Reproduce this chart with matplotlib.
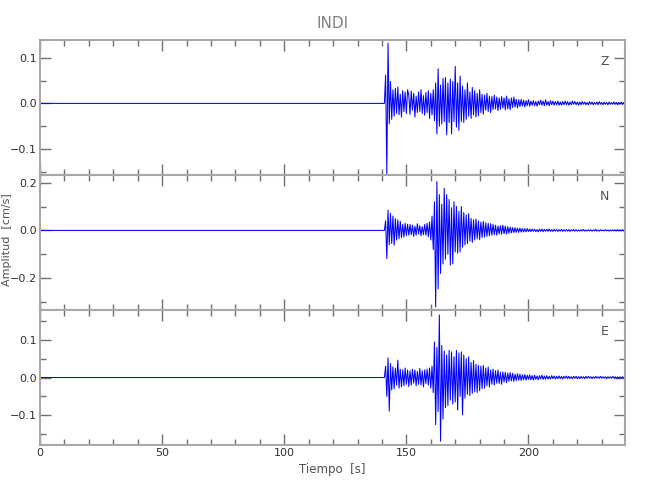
import numpy as np
import matplotlib
matplotlib.use('Agg')
import matplotlib.pyplot as plt
from matplotlib.ticker import MultipleLocator, FuncFormatter

plt.rcParams['font.family'] = ['DejaVu Sans']

# Station / component names
station = 'INDI'
components = ['Z', 'N', 'E']

# Waveforms, in 1e-3 cm/s, one sample every 0.5 s from t0.
# Before t0 the trace is flat at zero.
t0 = 141.0
dt = 0.5
z_vals = [
    0, 62, -154, 132, -45, 48, -35, 30, -28, 33, -22, 36, -25, 20, -30, 28, -18, 25, -22, 30,
    18, -24, 27, -15, 22, -30, 16, -20, 25, -18, 30, -22, 17, -26, 24, -20, 28, -33, 22, -25,
    30, -38, 45, -67, 76, -50, 40, -45, 55, -40, 57, -69, 45, -42, 53, -67, 48, -40, 81, -52,
    45, -59, 60, -40, 38, -42, 30, -35, 45, -28, 25, -33, 35, -25, 28, -30, 22, -27, 30, -20,
    20, -24, 18, -15, 22, -18, 16, -20, 15, -14, 18, -12, 14, -16, 12, -13, 15, -10, 12, -14,
    16, -12, 10, -14, 12, -9, 14, -8, 9, -10, 8, -7, 9, -6, 7, -8, 6, -5, 8, -6,
    5, -4, 6, -5, 4, -6, 5, -3, 7, -4, 5, -5, 8, -4, 4, -5, 6, -3, 5, -4,
    4, -3, 5, -4, 3, -4, 4, -3, 5, -3, 4, -4, 3, -3, 5, -2, 4, -3, 3, -4,
    3, -3, 4, -2, 3, -3, 2, -3, 4, -2, 3, -3, 2, -2, 3, -3, 4, -2, 2, -3,
    3, -2, 2, -3, 3, -2, 2, -2, 3, -2, 2, -3, 2, -2, 3, -2, 2, -2, 0,
]
n_vals = [
    0, 40, -118, 85, -60, 71, -55, 60, -62, 50, -40, 45, -35, 38, -30, 25, -28, 30, -22, 26,
    -20, 25, -18, 22, -25, 18, -20, 28, -15, 20, -22, 16, -18, 25, -20, 30, -26, 35, -40, 60,
    -80, 120, -320, 205, -245, 150, -180, 110, -140, 176, -120, 150, -100, 130, -145, 95, -140, 120, -90, 100,
    -95, 80, -90, 100, -70, 75, -60, 65, -55, 70, -45, 50, -50, 45, -40, 48, -35, 40, -38, 35,
    -30, 38, -28, 32, -25, 30, -22, 28, -20, 25, -18, 22, -20, 18, -15, 20, -16, 22, -14, 18,
    -15, 16, -12, 14, -10, 12, -9, 11, -8, 10, -8, 9, -7, 8, -6, 7, -6, 8, -5, 6,
    -5, 6, -4, 5, -5, 4, -6, 5, -4, 6, -5, 4, -3, 5, -4, 6, -4, 3, -4, 5,
    -3, 4, -4, 3, -3, 5, -4, 3, -3, 4, -3, 3, -4, 3, -2, 4, -3, 3, -3, 2,
    -3, 3, -2, 4, -3, 2, -3, 3, -2, 3, -3, 2, -2, 5, -3, 2, -3, 3, -2, 2,
    -2, 3, -2, 2, -3, 2, -2, 3, -2, 2, -2, 3, -2, 2, -2, 3, -2, 2, 0,
]
e_vals = [
    0, 30, -50, 52, -89, 37, -33, 28, -30, 25, -20, 46, -28, 22, -25, 20, -22, 25, -18, 20,
    -24, 18, -20, 22, -15, 20, -22, 16, -18, 24, -20, 18, -25, 20, -16, 22, -20, 25, -28, 30,
    -40, 94, -125, 80, -90, 166, -169, 85, -110, 70, -80, 60, -75, 72, -60, 68, -70, 55, -65, 72,
    -86, 65, -50, 68, -99, 60, -55, 50, -45, 55, -48, 40, -42, 45, -38, 35, -40, 32, -35, 30,
    -30, 32, -28, 25, -22, 28, -25, 20, -18, 22, -20, 18, -15, 20, -16, 14, -18, 15, -12, 14,
    -14, 12, -10, 13, -9, 11, -10, 9, -8, 10, -7, 9, -8, 7, -6, 8, -7, 6, -5, 7,
    -6, 5, -7, 6, -5, 4, -6, 5, -4, 6, -5, 4, -5, 5, -4, 3, -4, 5, -3, 4,
    -4, 3, -3, 4, -3, 3, -4, 3, -2, 4, -3, 3, -3, 2, -3, 3, -2, 3, -3, 2,
    -3, 3, -2, 2, -3, 3, -2, 3, -2, 2, -3, 2, -2, 3, -2, 2, -2, 3, -2, 2,
    -2, 2, -3, 2, -2, 2, -2, 3, -2, 2, -2, 2, -3, 2, -2, 2, -2, 2, 0,
]
traces = [z_vals, n_vals, e_vals]

# axis limits as shown
ylims = [(-0.157, 0.139), (-0.333, 0.232), (-0.179, 0.179)]
ymajor = [0.1, 0.2, 0.1]
xmax = 239.5

gray = '#a8a8a8'
txt = '#505050'

fmt = FuncFormatter(lambda v, p: ('%.1f' % v).replace('-', '\u2212'))

fig = plt.figure(figsize=(6.5, 5), dpi=100)
fig.subplots_adjust(left=0.0615, right=0.9615, bottom=0.11, top=0.92, hspace=0)
axes = fig.subplots(3, 1, sharex=True)

for ax, comp, vals, yl, ym in zip(axes, components, traces, ylims, ymajor):
    v = np.array(vals) / 1000.0
    t = t0 + dt * np.arange(len(v))
    t = np.concatenate([[0.0], t])
    v = np.concatenate([[0.0], v])
    ax.plot(t, v, color='#0000ff', lw=0.75)
    ax.set_ylim(yl)
    ax.set_xlim(0, xmax)
    ax.yaxis.set_major_locator(MultipleLocator(ym))
    ax.yaxis.set_minor_locator(MultipleLocator(ym / 2))
    ax.yaxis.set_major_formatter(fmt)
    ax.xaxis.set_major_locator(MultipleLocator(50))
    ax.xaxis.set_minor_locator(MultipleLocator(10))
    ax.tick_params(which='both', direction='in', top=True, right=True,
                   color='#707070', labelcolor='#303030', labelsize=8)
    ax.tick_params(which='major', length=8, width=1.0, pad=2)
    ax.tick_params(which='minor', length=4, width=1.0)
    for s in ax.spines.values():
        s.set_color(gray)
        s.set_linewidth(1.5)
    ax.text(0.965, 0.84, comp, transform=ax.transAxes, fontsize=9,
            color=txt, ha='center', va='center')

axes[0].set_title(station, fontsize=11, color='#808080', pad=9)
fig.text(7 / 650, 1 - 240 / 500, 'Amplitud  [cm/s]', rotation=90,
         fontsize=8, color=txt, ha='center', va='center')
axes[2].set_xlabel('Tiempo  [s]', fontsize=8.5, color=txt, labelpad=4)

fig.savefig('out.png', dpi=100)
